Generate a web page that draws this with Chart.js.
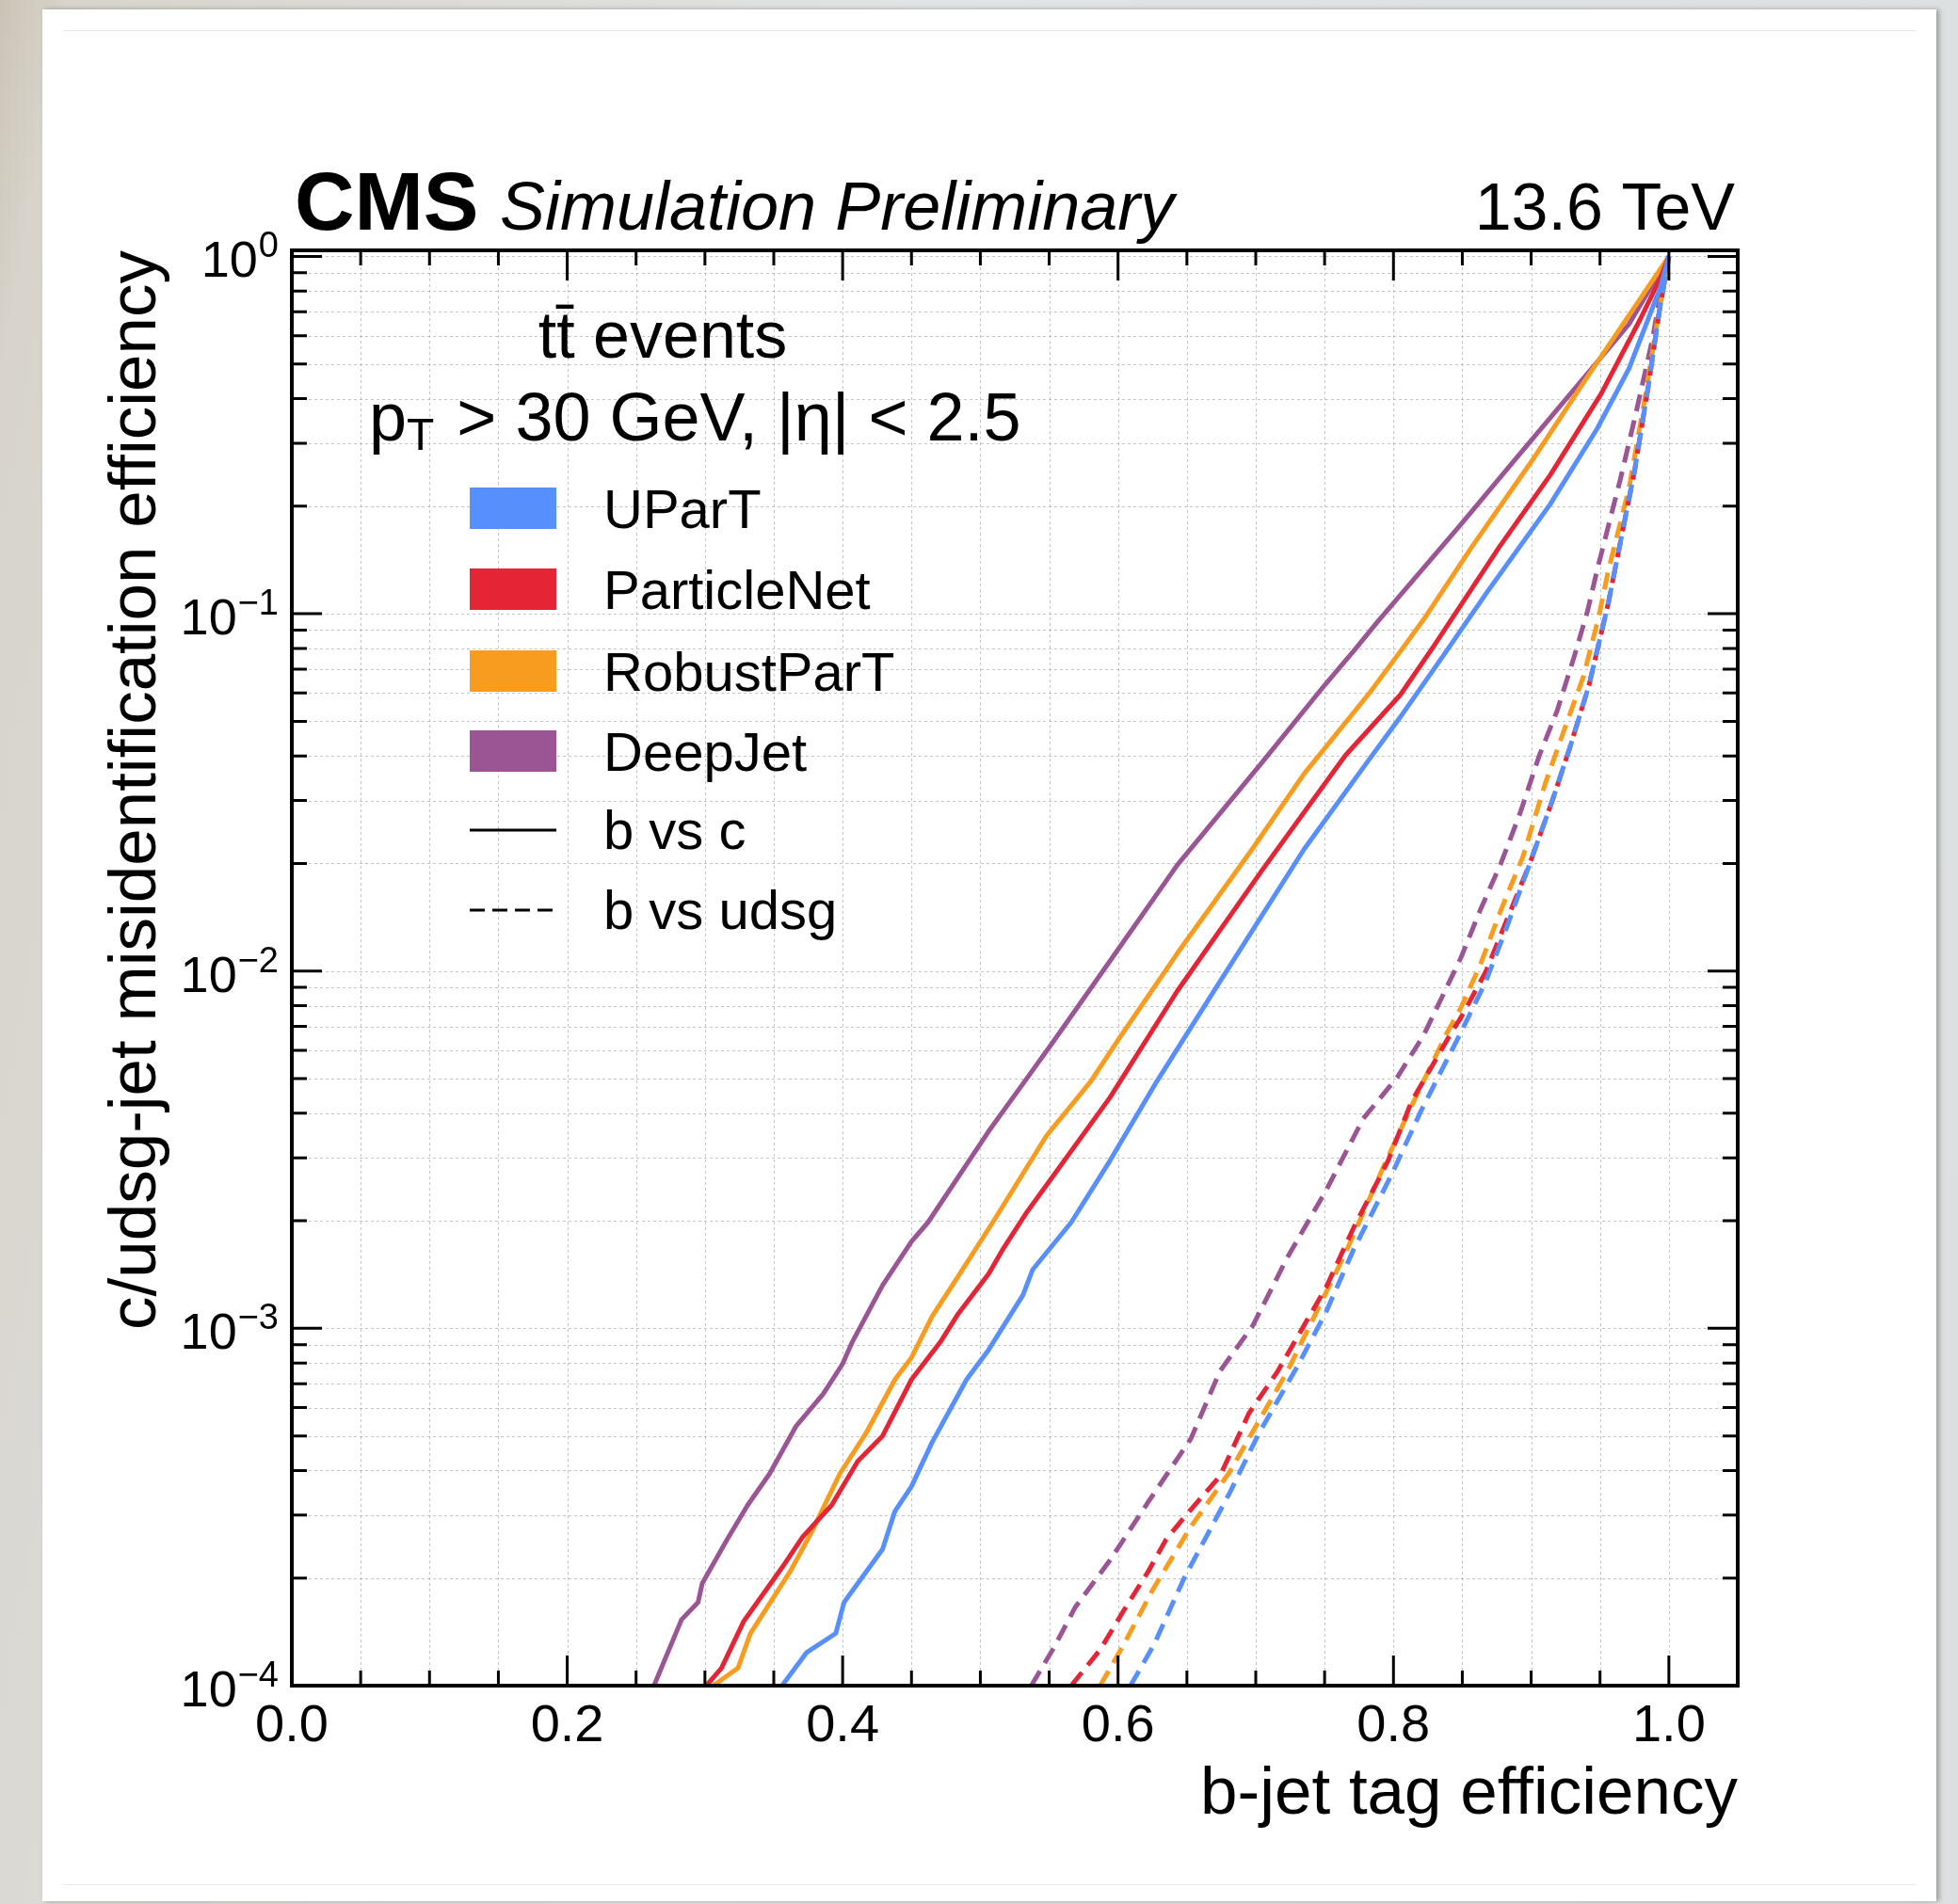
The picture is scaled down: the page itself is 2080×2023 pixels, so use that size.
<!DOCTYPE html>
<html>
<head>
<meta charset="utf-8">
<script src="https://cdn.jsdelivr.net/npm/chart.js@4.4.1/dist/chart.umd.min.js"></script>
<style>
  body {
    margin: 0;
    width: 2080px;
    height: 2023px;
    overflow: hidden;
    background: linear-gradient(100deg, #cbc3b6 0%, #d8d4cc 3%, #e1e4e4 40%, #dcdfdf 100%);
  }
  #card {
    position: absolute;
    left: 45px;
    top: 10px;
    width: 2012px;
    height: 2010px;
    background: #fff;
    box-shadow: 3px 0 5px rgba(0, 0, 0, 0.3);
  }
  .rule {
    position: absolute;
    left: 22px;
    right: 22px;
    height: 1px;
    background: #e8e8e8;
  }
  #chart {
    position: absolute;
    left: 0;
    top: 0;
  }
</style>
</head>
<body>
<div id="card">
  <div class="rule" style="top: 22px"></div>
  <div class="rule" style="top: 1992px"></div>
</div>
<canvas id="chart" width="2080" height="2023"></canvas>
<script>
// b vs c (solid)
const upartBcEff = [0.356, 0.374, 0.395, 0.401, 0.429, 0.438, 0.450, 0.465, 0.490, 0.506, 0.531, 0.538, 0.566, 0.594, 0.628, 0.674, 0.735, 0.780, 0.805, 0.835, 0.868, 0.914, 0.948, 0.971, 0.994, 1.0]
const upartBcMis = [1.00e-4, 1.24e-4, 1.40e-4, 1.71e-4, 2.41e-4, 3.08e-4, 3.61e-4, 4.80e-4, 7.19e-4, 8.71e-4, 1.24e-3, 1.46e-3, 1.98e-3, 2.94e-3, 4.90e-3, 9.35e-3, 2.19e-2, 3.80e-2, 5.14e-2, 7.52e-2, 0.115, 0.203, 0.330, 0.485, 0.822, 1.0]

const pnetBcEff = [0.301, 0.312, 0.328, 0.356, 0.371, 0.392, 0.411, 0.429, 0.450, 0.471, 0.484, 0.506, 0.517, 0.534, 0.552, 0.594, 0.643, 0.704, 0.765, 0.805, 0.829, 0.877, 0.914, 0.951, 0.979, 0.994, 1.0]
const pnetBcMis = [1.00e-4, 1.12e-4, 1.51e-4, 2.14e-4, 2.61e-4, 3.20e-4, 4.25e-4, 5.00e-4, 7.19e-4, 9.16e-4, 1.10e-3, 1.42e-3, 1.68e-3, 2.12e-3, 2.64e-3, 4.42e-3, 8.79e-3, 1.90e-2, 4.01e-2, 5.93e-2, 8.09e-2, 0.154, 0.245, 0.414, 0.665, 0.873, 1.0]

const robustBcEff = [0.306, 0.324, 0.333, 0.362, 0.377, 0.398, 0.417, 0.438, 0.450, 0.465, 0.484, 0.509, 0.548, 0.580, 0.601, 0.643, 0.698, 0.735, 0.783, 0.806, 0.823, 0.857, 0.900, 0.939, 0.976, 1.0]
const robustBcMis = [1.00e-4, 1.12e-4, 1.40e-4, 2.09e-4, 2.67e-4, 3.92e-4, 5.09e-4, 7.19e-4, 8.28e-4, 1.08e-3, 1.40e-3, 1.98e-3, 3.46e-3, 4.90e-3, 6.50e-3, 1.12e-2, 2.21e-2, 3.56e-2, 6.03e-2, 7.94e-2, 9.77e-2, 0.154, 0.266, 0.449, 0.730, 1.0]

const deepjetBcEff = [0.263, 0.283, 0.295, 0.298, 0.316, 0.331, 0.347, 0.366, 0.386, 0.400, 0.407, 0.429, 0.450, 0.462, 0.506, 0.532, 0.552, 0.598, 0.643, 0.704, 0.750, 0.772, 0.789, 0.849, 0.888, 0.934, 0.971, 0.994, 1.0]
const deepjetBcMis = [1.00e-4, 1.53e-4, 1.71e-4, 1.93e-4, 2.56e-4, 3.20e-4, 3.92e-4, 5.31e-4, 6.56e-4, 7.96e-4, 9.16e-4, 1.32e-3, 1.75e-3, 1.98e-3, 3.56e-3, 4.90e-3, 6.27e-3, 1.12e-2, 1.98e-2, 3.81e-2, 6.31e-2, 7.94e-2, 9.55e-2, 0.178, 0.269, 0.437, 0.646, 0.912, 1.0]

// b vs udsg (dashed)
const upartBlEff = [0.609, 0.626, 0.648, 0.681, 0.702, 0.730, 0.751, 0.771, 0.799, 0.820, 0.848, 0.867, 0.883, 0.899, 0.915, 0.928, 0.942, 0.956, 0.962, 0.975, 0.985, 0.993, 1.0]
const upartBlMis = [1.00e-4, 1.30e-4, 2.00e-4, 3.46e-4, 5.06e-4, 7.80e-4, 1.11e-3, 1.66e-3, 2.71e-3, 4.06e-3, 6.62e-3, 9.33e-3, 1.35e-2, 2.00e-2, 2.97e-2, 4.21e-2, 6.31e-2, 0.107, 0.140, 0.250, 0.432, 0.700, 1.0]

const pnetBlEff = [0.566, 0.587, 0.604, 0.622, 0.635, 0.650, 0.674, 0.695, 0.716, 0.737, 0.751, 0.771, 0.796, 0.813, 0.841, 0.849, 0.867, 0.883, 0.899, 0.915, 0.928, 0.942, 0.956, 0.962, 0.975, 0.985, 0.993, 1.0]
const pnetBlMis = [1.00e-4, 1.26e-4, 1.62e-4, 2.09e-4, 2.57e-4, 3.02e-4, 3.86e-4, 5.78e-4, 7.59e-4, 1.05e-3, 1.30e-3, 1.91e-3, 2.94e-3, 4.30e-3, 6.62e-3, 7.41e-3, 9.95e-3, 1.41e-2, 2.00e-2, 2.97e-2, 4.21e-2, 6.31e-2, 0.107, 0.140, 0.250, 0.432, 0.700, 1.0]

const robustBlEff = [0.587, 0.604, 0.625, 0.653, 0.681, 0.702, 0.723, 0.744, 0.765, 0.792, 0.813, 0.838, 0.849, 0.863, 0.878, 0.894, 0.910, 0.924, 0.938, 0.949, 0.956, 0.971, 0.982, 0.993, 1.0]
const robustBlMis = [1.00e-4, 1.30e-4, 1.85e-4, 2.79e-4, 3.96e-4, 5.48e-4, 7.59e-4, 1.11e-3, 1.62e-3, 2.79e-3, 4.18e-3, 6.62e-3, 7.89e-3, 1.04e-2, 1.48e-2, 2.09e-2, 3.33e-2, 4.73e-2, 6.68e-2, 9.77e-2, 0.132, 0.224, 0.389, 0.708, 1.0]

const deepjetBlEff = [0.537, 0.554, 0.569, 0.594, 0.622, 0.653, 0.674, 0.698, 0.723, 0.751, 0.778, 0.803, 0.822, 0.849, 0.863, 0.878, 0.892, 0.906, 0.919, 0.931, 0.941, 0.948, 0.965, 0.976, 0.988, 0.996, 1.0]
const deepjetBlMis = [1.00e-4, 1.29e-4, 1.66e-4, 2.24e-4, 3.27e-4, 4.92e-4, 7.59e-4, 1.02e-3, 1.58e-3, 2.43e-3, 3.86e-3, 5.06e-3, 6.62e-3, 1.09e-2, 1.48e-2, 2.00e-2, 2.77e-2, 4.02e-2, 5.37e-2, 7.53e-2, 0.102, 0.133, 0.240, 0.363, 0.585, 0.875, 1.0]

const taggers = ['UParT', 'ParticleNet', 'RobustParT', 'DeepJet']
const colors = ['#5790fc', '#e42536', '#f89c20', '#9c5594']
const xTickLabels = ['0.0', '0.2', '0.4', '0.6', '0.8', '1.0']
const yTickExps = [0, -1, -2, -3, -4]

const FONT = '"Liberation Sans", Arial, Helvetica, sans-serif'

function pts(eff, mis) {
  return eff.map(function (e, i) {
    return { x: e, y: mis[i] }
  })
}

function line(label, eff, mis, color, dashed) {
  return {
    label: label,
    data: pts(eff, mis),
    borderColor: color,
    borderWidth: 5,
    borderDash: dashed ? [18, 10] : [],
    borderJoinStyle: 'round',
    pointRadius: 0,
    tension: 0,
    fill: false,
  }
}

const datasets = [
  line('UParT b vs c', upartBcEff, upartBcMis, colors[0], false),
  line('ParticleNet b vs c', pnetBcEff, pnetBcMis, colors[1], false),
  line('RobustParT b vs c', robustBcEff, robustBcMis, colors[2], false),
  line('DeepJet b vs c', deepjetBcEff, deepjetBcMis, colors[3], false),
  line('UParT b vs udsg', upartBlEff, upartBlMis, colors[0], true),
  line('ParticleNet b vs udsg', pnetBlEff, pnetBlMis, colors[1], true),
  line('RobustParT b vs udsg', robustBlEff, robustBlMis, colors[2], true),
  line('DeepJet b vs udsg', deepjetBlEff, deepjetBlMis, colors[3], true),
]

function logValues(min, max) {
  var out = []
  for (var d = -4; d <= 0; d++) {
    for (var m = 1; m <= 9; m++) {
      var v = m * Math.pow(10, d)
      if (v >= min * 0.9999 && v <= max) out.push({ v: v, major: m === 1 })
    }
  }
  return out
}

const cmsPlot = {
  id: 'cmsPlot',
  beforeDatasetsDraw: function (chart) {
    var ctx = chart.ctx
    var a = chart.chartArea
    var xs = chart.scales.x
    var ys = chart.scales.y
    ctx.save()
    ctx.strokeStyle = 'rgba(150,150,150,0.55)'
    ctx.lineWidth = 1
    ctx.setLineDash([3, 3])
    for (var i = 1; i <= 20; i++) {
      var px = Math.round(xs.getPixelForValue(i * 0.05)) + 0.5
      ctx.beginPath()
      ctx.moveTo(px, a.top)
      ctx.lineTo(px, a.bottom)
      ctx.stroke()
    }
    logValues(ys.min, ys.max).forEach(function (t) {
      var py = Math.round(ys.getPixelForValue(t.v)) + 0.5
      if (py >= a.bottom - 1) return
      ctx.beginPath()
      ctx.moveTo(a.left, py)
      ctx.lineTo(a.right, py)
      ctx.stroke()
    })
    ctx.restore()
  },
  afterDatasetsDraw: function (chart) {
    var ctx = chart.ctx
    var a = chart.chartArea
    var xs = chart.scales.x
    var ys = chart.scales.y
    ctx.save()
    ctx.setLineDash([])
    ctx.strokeStyle = '#000'
    ctx.fillStyle = '#000'

    // ticks
    ctx.lineWidth = 3
    for (var i = 1; i <= 20; i++) {
      var px = xs.getPixelForValue(i * 0.05)
      var len = i % 4 === 0 ? 32 : 16
      ctx.beginPath()
      ctx.moveTo(px, a.bottom)
      ctx.lineTo(px, a.bottom - len)
      ctx.moveTo(px, a.top)
      ctx.lineTo(px, a.top + len)
      ctx.stroke()
    }
    logValues(ys.min, ys.max).forEach(function (t) {
      var py = ys.getPixelForValue(t.v)
      var len = t.major ? 32 : 16
      ctx.beginPath()
      ctx.moveTo(a.left, py)
      ctx.lineTo(a.left + len, py)
      ctx.moveTo(a.right, py)
      ctx.lineTo(a.right - len, py)
      ctx.stroke()
    })

    // frame
    ctx.lineWidth = 4
    ctx.strokeRect(a.left, a.top, a.right - a.left, a.bottom - a.top)

    // x tick labels
    ctx.font = '56px ' + FONT
    ctx.textAlign = 'center'
    ctx.textBaseline = 'alphabetic'
    xTickLabels.forEach(function (lab) {
      ctx.fillText(lab, xs.getPixelForValue(parseFloat(lab)), a.bottom + 59)
    })

    // y tick labels 10^n
    yTickExps.forEach(function (e) {
      var py = ys.getPixelForValue(Math.pow(10, e))
      var sup = e === 0 ? '0' : '\u2212' + Math.abs(e)
      ctx.font = '38px ' + FONT
      var sw = ctx.measureText(sup).width
      var right = a.left - 14
      ctx.textAlign = 'right'
      ctx.fillText(sup, right, py + 1)
      ctx.font = '54px ' + FONT
      ctx.fillText('10', right - sw - 1, py + 22)
    })

    // axis titles
    ctx.font = '71px ' + FONT
    ctx.textAlign = 'right'
    ctx.fillText('b-jet tag efficiency', a.right, a.bottom + 136)
    ctx.save()
    ctx.translate(a.left - 145, a.top)
    ctx.rotate(-Math.PI / 2)
    ctx.fillText('c/udsg-jet misidentification efficiency', 0, 0)
    ctx.restore()

    // header
    ctx.textAlign = 'left'
    ctx.font = 'bold 88px ' + FONT
    ctx.fillText('CMS', a.left + 3, a.top - 22)
    ctx.font = 'italic 72px ' + FONT
    ctx.fillText('Simulation Preliminary', a.left + 221, a.top - 22)
    ctx.font = '70px ' + FONT
    ctx.textAlign = 'right'
    ctx.fillText('13.6 TeV', a.right - 3, a.top - 22)

    // legend header
    ctx.font = '70px ' + FONT
    ctx.textAlign = 'center'
    ctx.fillText('tt\u0304 events', a.left + 394, a.top + 114)
    ctx.textAlign = 'left'
    var lx = a.left + 82
    var ly = a.top + 202
    ctx.font = '72px ' + FONT
    ctx.fillText('p', lx, ly)
    lx += ctx.measureText('p').width
    ctx.font = '48px ' + FONT
    ctx.fillText('T', lx, ly + 10)
    lx += ctx.measureText('T').width + 4
    ctx.font = '72px ' + FONT
    ctx.fillText(' > 30 GeV, |\u03b7| < 2.5', lx, ly)

    // legend entries
    var rows = [274, 360, 447, 532, 616, 701]
    var bx = a.left + 189
    var bw = 92
    var tx = a.left + 331
    ctx.font = '58px ' + FONT
    taggers.forEach(function (name, i) {
      var cy = a.top + rows[i]
      ctx.fillStyle = colors[i]
      ctx.fillRect(bx, cy - 22, bw, 44)
      ctx.fillStyle = '#000'
      ctx.fillText(name, tx, cy + 21)
    })
    ctx.lineWidth = 3
    var cy5 = a.top + rows[4]
    ctx.beginPath()
    ctx.moveTo(bx, cy5)
    ctx.lineTo(bx + bw, cy5)
    ctx.stroke()
    ctx.fillText('b vs c', tx, cy5 + 20)
    var cy6 = a.top + rows[5]
    ctx.setLineDash([16, 8])
    ctx.beginPath()
    ctx.moveTo(bx, cy6)
    ctx.lineTo(bx + bw, cy6)
    ctx.stroke()
    ctx.setLineDash([])
    ctx.fillText('b vs udsg', tx, cy6 + 20)

    ctx.restore()
  },
}

var chartElement = document.getElementById('chart').getContext('2d')

var chart = new Chart(chartElement, {
  type: 'line',
  data: { datasets: datasets },
  options: {
    responsive: false,
    devicePixelRatio: 1,
    animation: false,
    layout: { padding: { left: 310, right: 234, top: 266, bottom: 232 } },
    plugins: {
      legend: { display: false },
      tooltip: { enabled: false },
    },
    scales: {
      x: { type: 'linear', min: 0, max: 1.05, display: false },
      y: { type: 'logarithmic', min: 1e-4, max: 1.04, display: false },
    },
  },
  plugins: [cmsPlot],
})
</script>
</body>
</html>
